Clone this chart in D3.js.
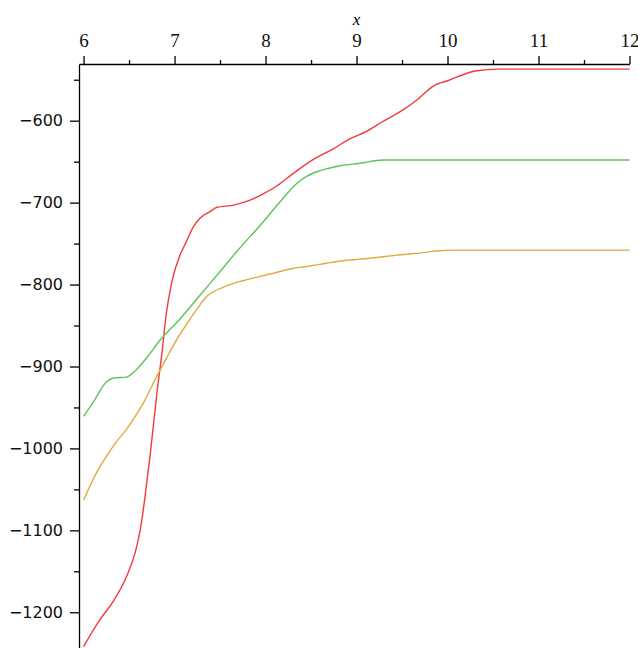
<!DOCTYPE html>
<html>
<head>
<meta charset="utf-8">
<script src="https://cdn.jsdelivr.net/npm/d3@7"></script>
<style>
  body { margin: 0; background: #fff; }
  .axis path, .axis line { stroke: #000; stroke-width: 1.3; }
  .xaxis text { font-family: "Liberation Serif", serif; font-size: 19px; fill: #111; }
  .yaxis text { font-family: "DejaVu Sans", sans-serif; font-size: 16px; fill: #111; }
</style>
</head>
<body>
<div id="chart"></div>
<script>
// values
const redX = [6.00, 6.18, 6.33, 6.47, 6.57, 6.63, 6.68, 6.73, 6.77, 6.81, 6.86, 6.91, 6.97, 7.06, 7.12, 7.21, 7.28, 7.39, 7.46, 7.65, 7.83, 7.98, 8.12, 8.31, 8.53, 8.75, 8.93, 9.11, 9.29, 9.48, 9.66, 9.84, 10.03, 10.12, 10.32, 10.55, 12.00]
const redY = [-1242, -1209, -1186, -1157, -1126, -1095, -1055, -1010, -969, -929, -885, -835, -797, -764, -750, -729, -719, -711, -706, -703, -697, -689, -680, -664, -647, -634, -622, -613, -601, -589, -575, -558, -550, -546, -539, -537, -537]

const greenX = [6.00, 6.11, 6.25, 6.33, 6.47, 6.58, 6.69, 6.84, 7.06, 7.28, 7.50, 7.72, 7.94, 8.16, 8.34, 8.45, 8.60, 8.82, 9.04, 9.29, 12.00]
const greenY = [-961, -943, -919, -914, -913, -904, -890, -868, -842, -813, -784, -755, -728, -699, -677, -668, -661, -655, -652, -648, -648]

const goldX = [6.00, 6.15, 6.25, 6.36, 6.47, 6.55, 6.66, 6.80, 6.91, 7.02, 7.13, 7.24, 7.35, 7.54, 7.76, 7.94, 8.09, 8.27, 8.45, 8.67, 8.85, 9.04, 9.22, 9.37, 9.55, 9.73, 9.88, 10.06, 12.00]
const goldY = [-1063, -1028, -1010, -992, -977, -964, -944, -913, -890, -868, -849, -831, -815, -803, -795, -790, -786, -781, -778, -774, -771, -769, -767, -765, -763, -761, -759, -758, -758]

const xTicks = [6, 7, 8, 9, 10, 11, 12]
const xMinor = [6.5, 7.5, 8.5, 9.5, 10.5, 11.5]
const yTicks = [-600, -700, -800, -900, -1000, -1100, -1200]
const yMinor = [-550, -650, -750, -850, -950, -1050, -1150]

const series = [
  { xs: redX, ys: redY, color: "#f23a3a" },
  { xs: greenX, ys: greenY, color: "#5cc45c" },
  { xs: goldX, ys: goldY, color: "#e0aa3e" }
]

const W = 638, H = 648

const svg = d3.select("#chart").append("svg")
  .attr("width", W)
  .attr("height", H)

const x = d3.scaleLinear().domain([5.95, 12]).range([79, 629.5])
const y = d3.scaleLinear().domain([-530.8, -1243.6]).range([64, 648])

// curves
const line = d3.line()
  .curve(d3.curveMonotoneX)
  .x(d => x(d[0]))
  .y(d => y(d[1]))

series.forEach(s => {
  svg.append("path")
    .datum(s.xs.map((v, i) => [v, s.ys[i]]))
    .attr("d", line)
    .attr("fill", "none")
    .attr("stroke", s.color)
    .attr("stroke-width", 1.4)
})

// top x axis
svg.append("g")
  .attr("class", "axis xaxis")
  .attr("transform", "translate(0,64)")
  .call(d3.axisTop(x).tickValues(xTicks).tickFormat(d3.format("d"))
    .tickSize(8).tickSizeOuter(0).tickPadding(9))

svg.append("g")
  .attr("class", "axis")
  .attr("transform", "translate(0,64)")
  .call(d3.axisTop(x).tickValues(xMinor).tickFormat("").tickSize(4).tickSizeOuter(0))
  .select(".domain").remove()

// left y axis
svg.append("g")
  .attr("class", "axis yaxis")
  .attr("transform", "translate(79,0)")
  .call(d3.axisLeft(y).tickValues(yTicks)
    .tickFormat(d => "\u2212" + Math.abs(d))
    .tickSize(9).tickSizeOuter(0).tickPadding(7))

svg.append("g")
  .attr("class", "axis")
  .attr("transform", "translate(79,0)")
  .call(d3.axisLeft(y).tickValues(yMinor).tickFormat("").tickSize(5).tickSizeOuter(0))
  .select(".domain").remove()

// axis title
svg.append("text")
  .attr("x", x(9))
  .attr("y", 25)
  .attr("text-anchor", "middle")
  .style("font-family", "Liberation Serif, serif")
  .style("font-style", "italic")
  .style("font-size", "17px")
  .text("x")
</script>
</body>
</html>
